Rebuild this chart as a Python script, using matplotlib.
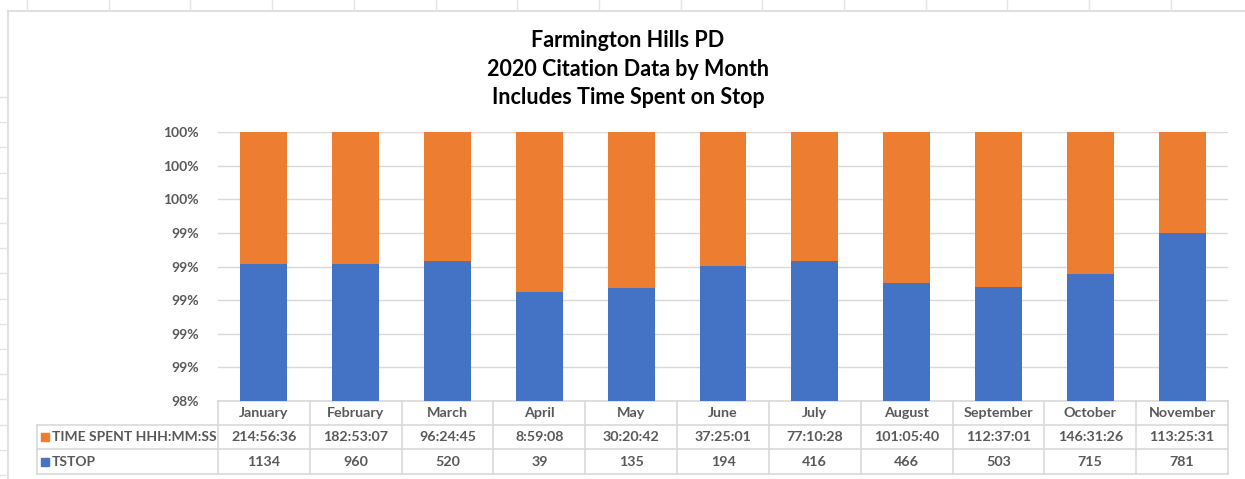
import numpy as np
import matplotlib
matplotlib.use('Agg')
from matplotlib import pyplot as plt
from matplotlib.lines import Line2D
from matplotlib.patches import Rectangle

plt.rcParams['font.family'] = ['Lato', 'DejaVu Sans']

months = ['January', 'February', 'March', 'April', 'May', 'June', 'July',
          'August', 'September', 'October', 'November']
time_spent = ['214:56:36', '182:53:07', '96:24:45', '8:59:08', '30:20:42', '37:25:01',
              '77:10:28', '101:05:40', '112:37:01', '146:31:26', '113:25:31']
tstop = [1134, 960, 520, 39, 135, 194, 416, 466, 503, 715, 781]

# excel keeps durations as days, that is what got stacked against the stop counts
def to_days(s):
    h, m, sec = [int(v) for v in s.split(':')]
    return h / 24 + m / 1440 + sec / 86400

days = np.array([to_days(t) for t in time_spent])
counts = np.array(tstop, dtype=float)
blue = counts / (counts + days)
orange = days / (counts + days)

BLUE = '#4472C4'
ORANGE = '#ED7D31'
GRAY = '#595959'
GRID = '#D9D9D9'

W, H = 1245, 479
fig = plt.figure(figsize=(W / 100, H / 100), dpi=100)

# plot area in pixels
x0, x1 = 218, 1228
y_top, y_bot = 132, 401
ax = fig.add_axes([x0 / W, 1 - y_bot / H, (x1 - x0) / W, (y_bot - y_top) / H])

x = np.arange(len(months))
ax.bar(x, blue, width=0.51, color=BLUE, zorder=3)
ax.bar(x, orange, width=0.51, bottom=blue, color=ORANGE, zorder=3)

ax.set_xlim(-0.5, len(months) - 0.5)
ax.set_ylim(0.984, 1.0)
yt = np.linspace(0.984, 1.0, 9)
ax.set_yticks(yt)
ax.set_yticklabels(['%d%%' % round(v * 100) for v in yt], color=GRAY,
                   fontsize=10, fontweight='bold')
ax.tick_params(axis='y', length=0, pad=14)
ax.set_xticks([])
ax.grid(axis='y', color=GRID, linewidth=1, zorder=0)
for s in ax.spines.values():
    s.set_visible(False)

# data table under the plot
px = (len(months)) / (x1 - x0)   # data units per pixel
row_edges = [0, -24 / 269, -48 / 269, -73 / 269]   # axes fraction
trans = ax.get_xaxis_transform()
lab_left = -0.5 - (x0 - 37) * px

def hline(xa, xb, y):
    ax.add_line(Line2D([xa, xb], [y, y], transform=trans, color=GRID, lw=1.2, clip_on=False))

def vline(xv, ya, yb):
    ax.add_line(Line2D([xv, xv], [ya, yb], transform=trans, color=GRID, lw=1.2, clip_on=False))

hline(-0.5, len(months) - 0.5, row_edges[0])
for y in row_edges[1:]:
    hline(lab_left, len(months) - 0.5, y)
for i in range(len(months) + 1):
    vline(i - 0.5, row_edges[0], row_edges[3])
vline(lab_left, row_edges[1], row_edges[3])

def mid(k):
    return (row_edges[k] + row_edges[k + 1]) / 2

for i, m in enumerate(months):
    ax.text(i, mid(0), m, transform=trans, ha='center', va='center',
            fontsize=10.3, fontweight='bold', color=GRAY)
    ax.text(i, mid(1), time_spent[i], transform=trans, ha='center', va='center',
            fontsize=10.3, fontweight='bold', color=GRAY)
    ax.text(i, mid(2), str(tstop[i]), transform=trans, ha='center', va='center',
            fontsize=10.3, fontweight='bold', color=GRAY)

for k, (lab, col) in enumerate([('TIME SPENT HHH:MM:SS', ORANGE), ('TSTOP', BLUE)]):
    yc = mid(k + 1)
    sq = 8 / 269
    ax.add_patch(Rectangle((lab_left + 4 * px, yc - sq / 2), 8 * px, sq, transform=trans,
                           color=col, clip_on=False))
    ax.text(lab_left + 15 * px, yc, lab, transform=trans, ha='left', va='center',
            fontsize=10, fontweight='bold', color=GRAY)

fig.text(628 / W, 1 - 69 / H, 'Farmington Hills PD\n2020 Citation Data by Month\nIncludes Time Spent on Stop',
         ha='center', va='center', fontsize=15.5, fontweight='bold', color='black',
         linespacing=1.45)

# chart border and the sheet cell lines peeking out behind it
fig.add_artist(Line2D([8 / W, 8 / W], [0, 1 - 11 / H], color=GRID, lw=1.2))
fig.add_artist(Line2D([8 / W, 1], [1 - 11 / H, 1 - 11 / H], color=GRID, lw=1.2))
for xs in np.arange(27, W, 81.7):
    fig.add_artist(Line2D([xs / W, xs / W], [1 - 10 / H, 1], color='#E4E4E4', lw=1))
for ys in np.arange(97, H, 25.2):
    fig.add_artist(Line2D([0, 7 / W], [1 - ys / H, 1 - ys / H], color='#E4E4E4', lw=1))

fig.savefig('out.png', dpi=100)
